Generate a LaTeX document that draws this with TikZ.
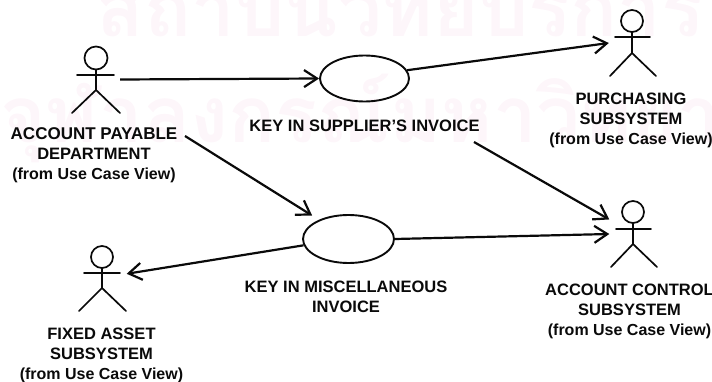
\documentclass[tikz,border=0pt]{standalone}
\usepackage{fontspec}
\setmainfont{Liberation Sans}
\newfontfamily\thaifont[Script=Thai]{Loma}
\usetikzlibrary{shapes.geometric,arrows.meta}
\definecolor{wm}{HTML}{FDF6FA}
\definecolor{ink}{HTML}{0A0A0A}
\tikzset{
  x=1pt,y=-1pt,
  fig/.style={draw=ink,line width=1.7pt,line cap=round},
  actorbox/.style={draw=none,inner sep=0pt,rectangle,minimum width=48pt},
  usecase/.style={ellipse,draw=ink,line width=1.9pt,inner sep=0pt},
  lab/.style={align=center,inner sep=0pt,text=ink,font=\fontsize{16.5}{20}\selectfont\bfseries},
  conn/.style={draw=ink,line width=2.2pt,-{Straight Barb[length=13pt,width=17pt,line width=2.2pt]}},
  wmark/.style={text=wm,inner sep=0pt,font=\fontsize{78}{78}\selectfont\thaifont\bfseries}
}
\newcommand{\stick}[8]{%
  \draw[fig] (#1,#2) circle[radius=#3];
  \draw[fig] (#5,#4) -- (#6,#4);
  \draw[fig] (#1,#2+#3) -- (#1,#7);
  \draw[fig] (#5-5,#8) -- (#1,#7) -- (#6+6,#8);
}
\newcommand{\viewline}{{\fontsize{16}{20}\selectfont (from Use Case View)}}
\begin{document}
\begin{tikzpicture}
\useasboundingbox (0,0) rectangle (712,382);
\begin{scope}
\clip (0,0) rectangle (712,382);
\node[wmark,anchor=center] (w1) at (400,5) {สถาบันวิทยบริการ};
\node[wmark,anchor=west] (w2) at (0,118) {จุฬาลงกรณ์มหาวิทยาลัย};
\end{scope}

% actors
\node[actorbox,minimum height=68pt] (pay) at (96,79.5) {};
\node[actorbox,minimum height=66pt] (pur) at (633,43) {};
\node[actorbox,minimum height=66pt] (fix) at (102.5,278.5) {};
\node[actorbox,minimum height=66pt] (acc) at (633.5,234) {};
\stick{96}{58}{11.5}{75}{77}{114}{90}{113}
\stick{632}{21}{11}{37}{615}{650}{53}{76}
\stick{102}{257}{11}{273}{84}{120}{288}{311}
\stick{633}{212}{11}{229}{616}{651}{244}{267}

% use cases
\node[usecase,minimum width=89pt,minimum height=46pt] (uc1) at (364.5,78.5) {};
\node[usecase,minimum width=91pt,minimum height=48pt] (uc2) at (348.5,239) {};

% labels
\node[lab] (lpay) at (94,155.5) {{\fontsize{17}{20}\selectfont ACCOUNT PAYABLE}\\DEPARTMENT\\\viewline};
\node[lab] (lpur) at (631,120) {PURCHASING\\SUBSYSTEM\\\viewline};
\node[lab] (lfix) at (101.5,355) {FIXED ASSET\\SUBSYSTEM\\\viewline};
\node[lab] (lacc) at (629.5,311) {ACCOUNT CONTROL\\SUBSYSTEM\\\viewline};
\node[lab] (luc1) at (364.5,126) {KEY IN SUPPLIER'S INVOICE};
\node[lab] (luc2) at (346,297) {KEY IN MISCELLANEOUS\\INVOICE};

% free connector ends
\coordinate (s3) at (185,136);
\coordinate (s6) at (474,142);

% connectors
\draw[conn] (pay.east) -- (uc1.west);
\draw[conn] (uc1.11) -- (pur.west);
\draw[conn,shorten >=8pt] (s3) -- (uc2.147);
\draw[conn] (uc2.188) -- (fix.11);
\draw[conn] (uc2.east) -- (acc.west);
\draw[conn] (s6) -- (acc.149);
\end{tikzpicture}
\end{document}
